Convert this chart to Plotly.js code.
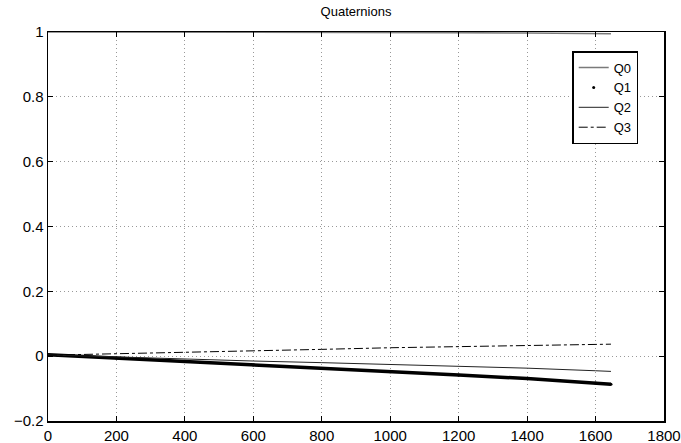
<!DOCTYPE html>
<html>
<head>
<meta charset="utf-8">
<script src="https://cdn.plot.ly/plotly-3.0.1.min.js"></script>
<style>html,body{margin:0;padding:0;background:#fff;}#chart{width:681px;height:443px;}</style>
</head>
<body>
<div id="chart"></div>
<script>
var sampleIndex = [0, 200, 400, 600, 800, 1000, 1200, 1400, 1600, 1645];
var q0 = [1.0, 1.0, 1.0, 0.9998, 0.9995, 0.999, 0.998, 0.997, 0.995, 0.9945];
var q1 = [0.004, -0.006, -0.016, -0.027, -0.038, -0.048, -0.058, -0.069, -0.083, -0.087];
var q2 = [0.004, -0.003, -0.010, -0.015, -0.020, -0.025, -0.031, -0.037, -0.045, -0.047];
var q3 = [0.003, 0.007, 0.011, 0.016, 0.021, 0.026, 0.030, 0.034, 0.037, 0.037];
var xTicks = [0, 200, 400, 600, 800, 1000, 1200, 1400, 1600, 1800];
var yTicks = [-0.2, 0, 0.2, 0.4, 0.6, 0.8, 1];
var yTickText = ['\u22120.2', '0', '0.2', '0.4', '0.6', '0.8', '1'];

var fam = 'Liberation Sans';

var traces = [
  {x: sampleIndex, y: q0, name: 'Q0', mode: 'lines', line: {color: '#7a7a7a', width: 1.5}},
  {x: sampleIndex, y: q1, name: 'Q1', mode: 'lines', line: {color: '#000', width: 3.5}, legendgroup: 'q1', showlegend: false},
  {x: sampleIndex, y: q1, name: 'Q1', mode: 'markers', marker: {color: '#000', size: 3}, legendgroup: 'q1'},
  {x: sampleIndex, y: q2, name: 'Q2', mode: 'lines', line: {color: '#222', width: 1}},
  {x: sampleIndex, y: q3, name: 'Q3', mode: 'lines', line: {color: '#000', width: 1, dash: 'dashdot'}}
];

function axis(extra) {
  var a = {
    showline: true, linecolor: '#000', linewidth: 1.5, mirror: 'ticks',
    ticks: 'inside', ticklen: 5, tickcolor: '#000', tickwidth: 1,
    showgrid: true, gridcolor: '#999', griddash: '1px,3px', gridwidth: 1,
    zeroline: false, tickfont: {family: fam, size: 15, color: '#000'}
  };
  for (var k in extra) a[k] = extra[k];
  return a;
}

var layout = {
  width: 681, height: 443,
  margin: {l: 48, r: 17, t: 32, b: 22},
  paper_bgcolor: '#fff', plot_bgcolor: '#fff',
  font: {family: fam, size: 15, color: '#000'},
  title: {text: 'Quaternions', font: {family: fam, size: 13, color: '#000'}, x: 0.5, xref: 'paper', y: 0.975, yref: 'container', yanchor: 'middle'},
  xaxis: axis({range: [0, 1800], tickvals: xTicks, ticktext: xTicks.map(String)}),
  yaxis: axis({range: [-0.2, 1], tickvals: yTicks, ticktext: yTickText}),
  showlegend: true,
  legend: {x: 0.851, y: 0.951, xanchor: 'left', yanchor: 'top', bgcolor: '#fff', bordercolor: '#000', borderwidth: 1.5,
           font: {family: fam, size: 13, color: '#000'}, tracegroupgap: 0, itemwidth: 30}
};

Plotly.newPlot('chart', traces, layout, {staticPlot: true, displayModeBar: false});
</script>
</body>
</html>
